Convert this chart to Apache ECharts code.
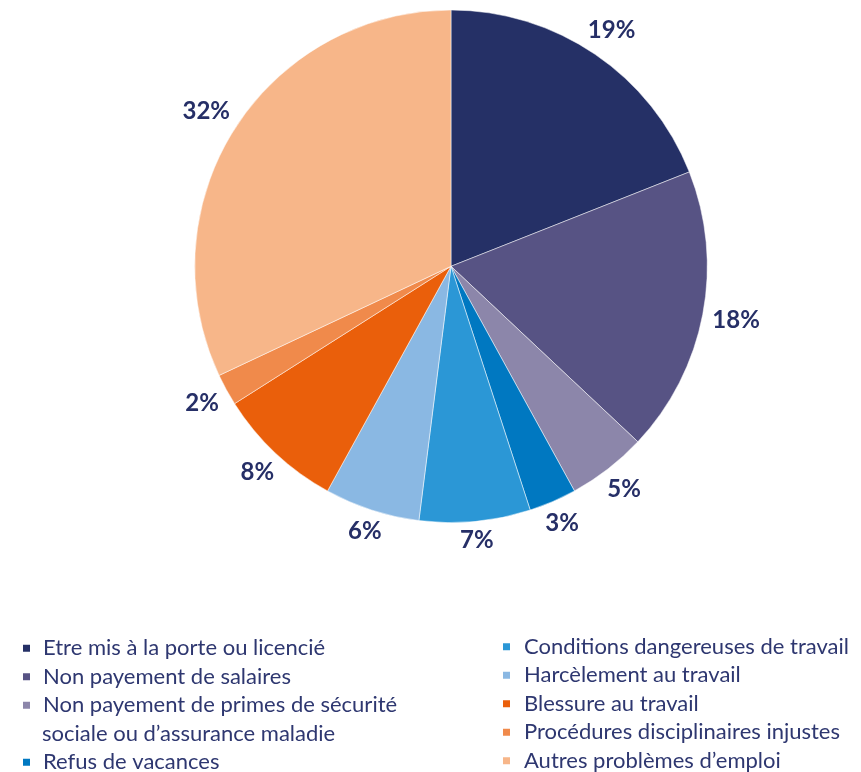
<!DOCTYPE html>
<html>
<head>
<meta charset="utf-8">
<script src="https://cdn.jsdelivr.net/npm/echarts@6/dist/echarts.min.js"></script>
<style>
  html, body { margin: 0; padding: 0; background: #ffffff; }
  #chart { width: 861px; height: 772px; }
</style>
</head>
<body>
<div id="chart"></div>
<script>
// Categories (a "\n" marks where a long legend entry wraps)
const categories = [
  'Etre mis à la porte ou licencié',
  'Non payement de salaires',
  'Non payement de primes de sécurité\nsociale ou d’assurance maladie',
  'Refus de vacances',
  'Conditions dangereuses de travail',
  'Harcèlement au travail',
  'Blessure au travail',
  'Procédures disciplinaires injustes',
  'Autres problèmes d’emploi'
];
// Share of each problem, in percent
const shares = [19, 18, 5, 3, 7, 6, 8, 2, 32];
const colors = [
  '#253066', '#575384', '#8C86AA', '#0078C1', '#2B97D6',
  '#8AB8E3', '#EA5F0B', '#F08A4B', '#F7B689'
];

const CX = 451, CY = 266.3, R = 256.3;
const GAP = 9, GLYPH_H = 17;
const TEXT = '#2E3770';
const LABEL = '#262F67';
const FONT = 'Lato';
const LEG_SIZE = 22, LEG_LH = 28.5;

const chart = echarts.init(document.getElementById('chart'), null, { renderer: 'canvas' });

const pieData = categories.map((name, i) => ({
  name: name,
  value: shares[i],
  itemStyle: { color: colors[i] }
}));

const legendText = {
  color: TEXT,
  fontFamily: FONT,
  fontSize: LEG_SIZE,
  lineHeight: LEG_LH
};

function firstLine(name) { return name.split('\n')[0]; }

function legendBlock(items, left, top, padLeft) {
  return {
    orient: 'vertical', left: left, top: top, height: 200,
    padding: 0, itemGap: 0,
    itemWidth: 9, itemHeight: 9, icon: 'rect', selectedMode: false,
    data: items,
    formatter: firstLine,
    textStyle: Object.assign({ padding: [0, 0, 0, padLeft] }, legendText)
  };
}

const option = {
  backgroundColor: '#ffffff',
  animation: false,
  legend: [
    legendBlock(categories.slice(0, 3), 21, 634, 7),
    legendBlock(categories.slice(3, 4), 21, 748, 7),
    legendBlock(categories.slice(4), 501, 632.5, 8)
  ],
  graphic: [
    {
      // wrapped second line of the long legend entry
      type: 'text',
      left: 42,
      top: 733.5 - LEG_LH / 2,
      style: {
        text: categories[2].split('\n')[1],
        fill: TEXT,
        font: LEG_SIZE + 'px ' + FONT,
        lineHeight: LEG_LH,
        verticalAlign: 'top'
      }
    }
  ],
  series: [
    {
      type: 'pie',
      center: [CX, CY],
      radius: [0, R],
      startAngle: 90,
      clockwise: true,
      avoidLabelOverlap: false,
      silent: true,
      itemStyle: { borderColor: '#ffffff', borderWidth: 0.5 },
      label: {
        show: true,
        position: 'inside',
        formatter: '{c}%',
        color: LABEL,
        fontFamily: FONT,
        fontWeight: 'bold',
        fontSize: 24,
        lineHeight: GLYPH_H
      },
      labelLine: { show: false },
      // push each label outward along its slice's mid-angle, clear of the rim
      labelLayout: function (p) {
        const r = p.labelRect;
        const lx = r.x + r.width / 2, ly = r.y + r.height / 2;
        const dx = lx - CX, dy = ly - CY;
        const d = Math.hypot(dx, dy) || 1;
        const ux = dx / d, uy = dy / d;
        const dist = R + GAP + Math.abs(ux) * r.width / 2 + Math.abs(uy) * GLYPH_H / 2;
        return {
          x: CX + ux * dist,
          y: CY + uy * dist,
          align: 'center',
          verticalAlign: 'middle'
        };
      },
      data: pieData
    }
  ]
};

chart.setOption(option);
</script>
</body>
</html>
